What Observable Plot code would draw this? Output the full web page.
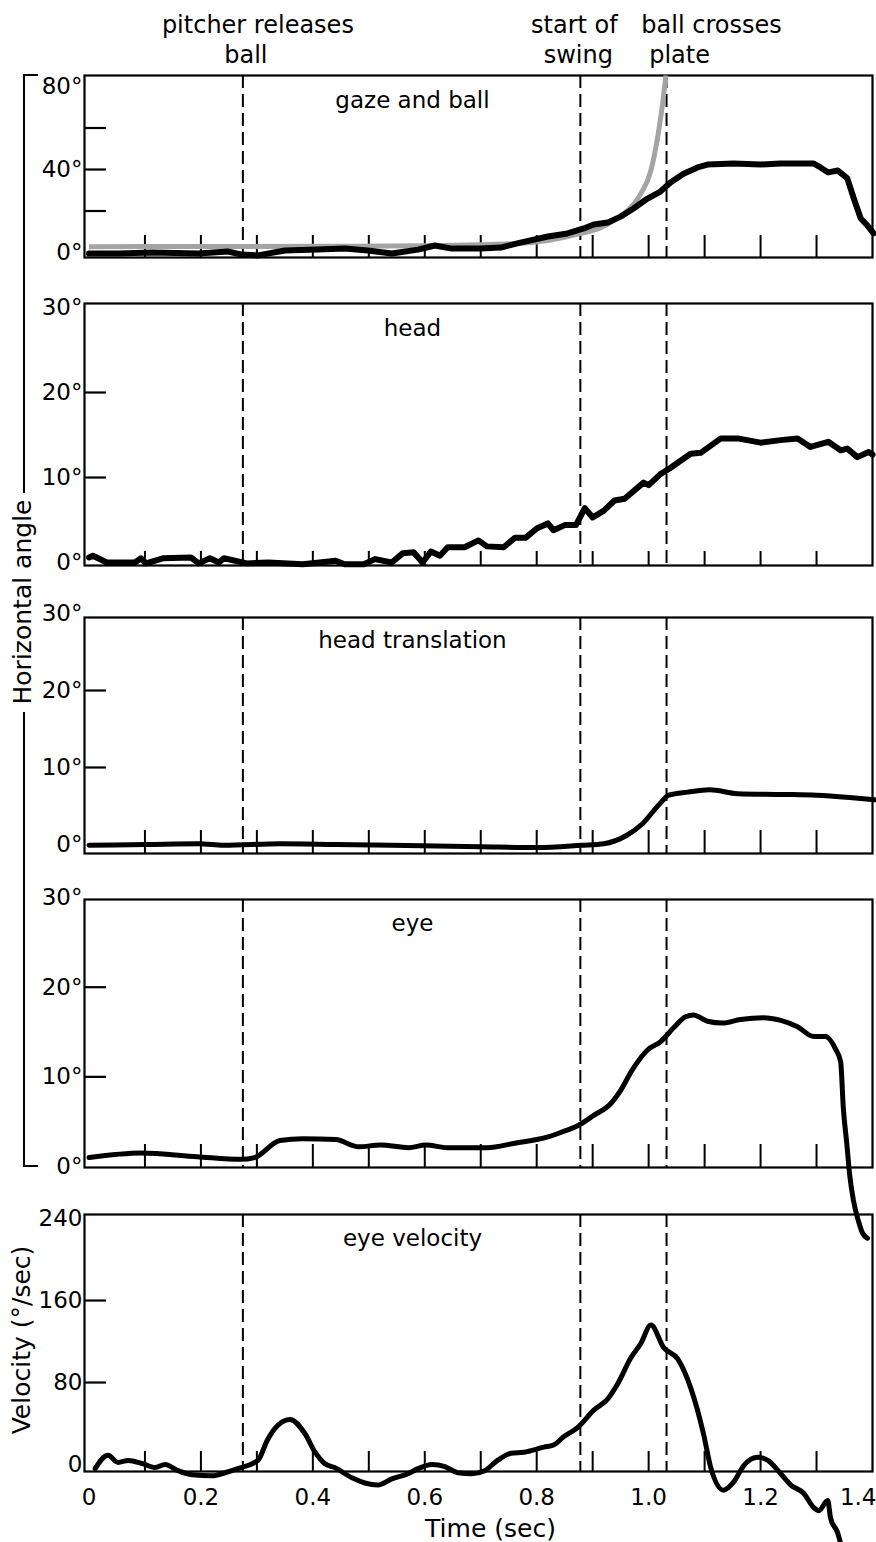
<!DOCTYPE html>
<html><head><meta charset="utf-8">
<script src="https://cdn.jsdelivr.net/npm/d3@7"></script>
<script src="https://cdn.jsdelivr.net/npm/@observablehq/plot@0.6"></script>
<style>
html,body{margin:0;padding:0;background:#fff;}
#chart{position:relative;width:876px;height:1542px;overflow:hidden;font-family:"DejaVu Sans",sans-serif;background:#fff;}
#chart svg{position:absolute;left:0;}
</style></head><body><div id="chart"></div>
<script>
// ---- data ----
const eventTimes = [0.275, 0.878, 1.032];
const eventLine1 = ["pitcher releases", "start of", "ball crosses"];
const eventLine2 = ["ball", "swing", "plate"];
const panelTitles = ["gaze and ball", "head", "head translation", "eye", "eye velocity"];
const timeTicks = [0.1, 0.2, 0.3, 0.4, 0.5, 0.6, 0.7, 0.8, 0.9, 1.0, 1.1, 1.2, 1.3];
const timeTickLabels = [0, 0.2, 0.4, 0.6, 0.8, 1.0, 1.2, 1.4];

const gazeT = [0, 0.052, 0.113, 0.195, 0.248, 0.273, 0.302, 0.35, 0.409, 0.457, 0.498, 0.541, 0.588, 0.618, 0.648, 0.70, 0.736, 0.771, 0.82, 0.855, 0.884, 0.902, 0.927, 0.95, 0.973, 0.998, 1.021, 1.039, 1.0625, 1.0875, 1.105, 1.152, 1.2, 1.236, 1.295, 1.307, 1.321, 1.338, 1.355, 1.366, 1.379, 1.391, 1.402];
const gazeDeg = [-0.5, -0.5, 0, -0.5, 0.5, -1, -1.4, 1, 1.4, 1.9, 1, -0.5, 1.4, 3.4, 1.9, 1.9, 2.4, 4.8, 7.7, 9.2, 11.6, 13.5, 14.5, 17.3, 21.2, 26, 29.4, 33.7, 38, 41, 42.4, 42.9, 42.4, 42.9, 42.9, 41, 38.6, 39.5, 35.7, 26.5, 16.4, 13, 9.2];

const ballT = [0, 0.2, 0.4, 0.6, 0.7, 0.759, 0.82, 0.879, 0.914, 0.9375, 0.9625, 0.986, 1.004, 1.016, 1.025, 1.031];
const ballDeg = [2.8, 2.9, 3.0, 3.3, 3.8, 4.3, 5.8, 9.2, 12, 15.4, 20.2, 28.4, 39.5, 55.4, 71.8, 85.3];

const headT = [0, 0.007, 0.032, 0.082, 0.093, 0.102, 0.132, 0.182, 0.196, 0.216, 0.232, 0.241, 0.282, 0.321, 0.382, 0.441, 0.457, 0.491, 0.511, 0.541, 0.561, 0.580, 0.596, 0.611, 0.627, 0.641, 0.671, 0.696, 0.711, 0.741, 0.761, 0.780, 0.8, 0.820, 0.830, 0.850, 0.870, 0.886, 0.9, 0.920, 0.939, 0.957, 0.991, 1.0, 1.021, 1.036, 1.075, 1.093, 1.129, 1.159, 1.2, 1.236, 1.266, 1.289, 1.321, 1.343, 1.355, 1.373, 1.393, 1.4];
const headDeg = [0.6, 0.8, 0, 0, 0.5, -0.1, 0.5, 0.6, -0.1, 0.5, 0, 0.5, -0.1, 0, -0.2, 0.2, -0.2, -0.2, 0.4, 0, 1.1, 1.2, 0, 1.3, 0.8, 1.8, 1.8, 2.6, 1.9, 1.8, 2.9, 2.9, 4, 4.6, 3.8, 4.4, 4.4, 6.4, 5.3, 6.1, 7.3, 7.5, 9.4, 9.1, 10.4, 11, 12.8, 12.9, 14.6, 14.6, 14.1, 14.4, 14.6, 13.6, 14.2, 13.2, 13.4, 12.4, 13, 12.7];

const transT = [0, 0.102, 0.196, 0.241, 0.341, 0.441, 0.541, 0.7, 0.8, 0.88, 0.92, 0.961, 0.989, 1.02, 1.036, 1.07, 1.109, 1.159, 1.239, 1.3, 1.359, 1.404];
const transDeg = [-0.1, 0, 0.1, -0.1, 0.1, 0, -0.1, -0.3, -0.4, -0.1, 0.1, 1.2, 2.7, 5.3, 6.4, 6.8, 7.1, 6.6, 6.5, 6.4, 6.1, 5.8];

const eyeT = [0, 0.093, 0.193, 0.271, 0.296, 0.341, 0.382, 0.441, 0.482, 0.521, 0.571, 0.602, 0.641, 0.711, 0.761, 0.82, 0.843, 0.875, 0.902, 0.932, 0.95, 0.971, 0.998, 1.021, 1.045, 1.066, 1.08, 1.105, 1.132, 1.164, 1.205, 1.236, 1.266, 1.295, 1.316, 1.334, 1.343, 1.348, 1.354, 1.359, 1.366, 1.375, 1.382, 1.391];
const eyeDeg = [1.0, 1.5, 1.1, 0.8, 1.0, 2.9, 3.1, 3.0, 2.2, 2.4, 2.1, 2.4, 2.1, 2.1, 2.6, 3.3, 3.8, 4.6, 5.7, 7.0, 8.5, 10.8, 13.0, 13.9, 15.5, 16.7, 16.9, 16.2, 16.0, 16.4, 16.6, 16.3, 15.6, 14.5, 14.5, 13.1, 11.7, 6.4, 2.6, -0.8, -3.8, -6.1, -7.4, -8.0];

const velT = [0.011, 0.034, 0.052, 0.07, 0.095, 0.118, 0.136, 0.159, 0.184, 0.22, 0.243, 0.266, 0.302, 0.318, 0.332, 0.359, 0.386, 0.404, 0.421, 0.439, 0.470, 0.493, 0.516, 0.541, 0.570, 0.588, 0.613, 0.636, 0.659, 0.684, 0.707, 0.730, 0.754, 0.777, 0.813, 0.830, 0.848, 0.873, 0.902, 0.927, 0.945, 0.968, 0.986, 1.004, 1.027, 1.052, 1.075, 1.098, 1.111, 1.134, 1.152, 1.170, 1.195, 1.213, 1.236, 1.254, 1.277, 1.295, 1.304, 1.320, 1.325, 1.338, 1.343];
const velVal = [-4, 9, 2, 4, 1, -3, 0, -6, -10, -11, -8, -4, 4, 23, 35, 44, 30, 12, 1, -3, -13, -18, -20, -14, -9, -4, 0, -2, -8, -9, -6, 4, 11, 12, 17, 19, 27, 36, 53, 64, 79, 104, 118, 136, 114, 103, 75, 30, -3, -25, -17, -1, 7, 4, -9, -20, -28, -42, -45, -35, -52, -67, -77];

// ---- layout ----
const FONT = "DejaVu Sans, sans-serif";
const W = 876, ML = 84, MR = 4, FW = W - ML - MR;
const xDomain = [-0.008, 1.4];
const chart = document.getElementById("chart");
const zip = (t, v) => t.map((d, i) => ({t: d, v: v[i]}));
const deg = d => d + "°";

function panel(o) {
  const mt = o.marginTop ?? 10, mb = o.marginBottom ?? 10;
  const fh = o.frameBottom - o.frameTop;
  const svg = Plot.plot({
    width: W, height: mt + fh + mb,
    marginLeft: ML, marginRight: MR, marginTop: mt, marginBottom: mb,
    x: {domain: xDomain, axis: null},
    y: {domain: o.yDomain, axis: null},
    style: {background: "transparent", overflow: "visible", fontFamily: FONT, color: "black"},
    marks: [
      Plot.frame({stroke: "black", strokeWidth: 2.2}),
      Plot.tickX(timeTicks, {x: d => d, stroke: "black", strokeWidth: 2, insetTop: fh - o.tickLen}),
      Plot.tickY(o.yTicks, {y: d => d, stroke: "black", strokeWidth: 2.2, insetRight: FW - 22}),
      Plot.ruleX(eventTimes, {x: d => d, stroke: "black", strokeWidth: 2, strokeDasharray: "13,6"}),
      Plot.text(o.yLabels, {y: d => d, text: o.fmt, frameAnchor: "left", textAnchor: "end", dx: -2, fontSize: 23}),
      Plot.text([o.title], {text: d => d, frameAnchor: "top", lineAnchor: "middle", dy: o.titleDy, dx: -66, fontSize: 23}),
      ...o.marks
    ]
  });
  svg.style.top = (o.frameTop - mt) + "px";
  chart.appendChild(svg);
}

const lineStyle = {x: "t", y: "v", stroke: "black", strokeLinejoin: "round", strokeLinecap: "round"};

// header annotations (panel 1)
const dx1 = [15, -6, 45], dx2 = [3, -2, 13];
const headerMarks = eventTimes.flatMap((t, i) => [
  Plot.text([eventLine1[i]], {x: () => t, text: d => d, frameAnchor: "top", lineAnchor: "middle", dy: -50, dx: dx1[i], fontSize: 24}),
  Plot.text([eventLine2[i]], {x: () => t, text: d => d, frameAnchor: "top", lineAnchor: "middle", dy: -20, dx: dx2[i], fontSize: 24})
]);

panel({frameTop: 75, frameBottom: 257, marginTop: 75, yDomain: [-2.4, 85.3], yTicks: [20, 40, 60], yLabels: [0, 40, 80], fmt: deg,
  title: panelTitles[0], titleDy: 25, tickLen: 22,
  marks: [
    ...headerMarks,
    Plot.line(zip(ballT, ballDeg), {x: "t", y: "v", stroke: "#a4a4a4", strokeWidth: 5, curve: "monotone-x", strokeLinecap: "butt"}),
    Plot.line(zip(gazeT, gazeDeg), {...lineStyle, strokeWidth: 6})
  ]});

panel({frameTop: 303, frameBottom: 565, yDomain: [-0.35, 30.47], yTicks: [10, 20], yLabels: [0, 10, 20, 30], fmt: deg,
  title: panelTitles[1], titleDy: 25, tickLen: 14,
  marks: [Plot.line(zip(headT, headDeg), {...lineStyle, strokeWidth: 6})]});

panel({frameTop: 617, frameBottom: 853, yDomain: [-1.17, 29.48], yTicks: [10, 20], yLabels: [0, 10, 20, 30], fmt: deg,
  title: panelTitles[2], titleDy: 23, tickLen: 23,
  marks: [Plot.line(zip(transT, transDeg), {...lineStyle, strokeWidth: 5, curve: "monotone-x"})]});

panel({frameTop: 899, frameBottom: 1167, yDomain: [-0.11, 29.78], yTicks: [10, 20], yLabels: [0, 10, 20, 30], fmt: deg,
  title: panelTitles[3], titleDy: 24, tickLen: 23,
  marks: [Plot.line(zip(eyeT, eyeDeg), {...lineStyle, strokeWidth: 5, curve: "monotone-x"})]});

const fmtTime = d => d === 0 ? "0" : d.toFixed(1);
panel({frameTop: 1214, frameBottom: 1471, marginBottom: 71, yDomain: [-6.8, 243.9], yTicks: [80, 160], yLabels: [0, 80, 160, 240], fmt: d => String(d),
  title: panelTitles[4], titleDy: 24, tickLen: 20,
  marks: [
    Plot.line(zip(velT, velVal), {...lineStyle, strokeWidth: 5, curve: "monotone-x"}),
    Plot.text(timeTickLabels.slice(0, -1), {x: d => d, text: fmtTime, frameAnchor: "bottom", lineAnchor: "middle", dy: 26, fontSize: 23}),
    Plot.text(timeTickLabels.slice(-1), {x: d => d, text: fmtTime, frameAnchor: "bottom", lineAnchor: "middle", textAnchor: "end", dy: 26, dx: 4, fontSize: 23}),
    Plot.text(["Time (sec)"], {text: d => d, frameAnchor: "bottom", lineAnchor: "middle", dy: 57, dx: 12, fontSize: 25})
  ]});

// y-axis titles and bracket
const ov = d3.create("svg").attr("width", W).attr("height", 1542).style("top", "0px").style("overflow", "visible");
ov.append("path").attr("d", "M38,75H24V493M24,712V1166H38").attr("fill", "none").attr("stroke", "black").attr("stroke-width", 2);
ov.append("text").attr("transform", "translate(22,602) rotate(-90)").attr("text-anchor", "middle").attr("dominant-baseline", "central")
  .attr("font-family", FONT).attr("font-size", 25).text("Horizontal angle");
ov.append("text").attr("transform", "translate(21,1340) rotate(-90)").attr("text-anchor", "middle").attr("dominant-baseline", "central")
  .attr("font-family", FONT).attr("font-size", 25).text("Velocity (°/sec)");
chart.appendChild(ov.node());
</script></body></html>
